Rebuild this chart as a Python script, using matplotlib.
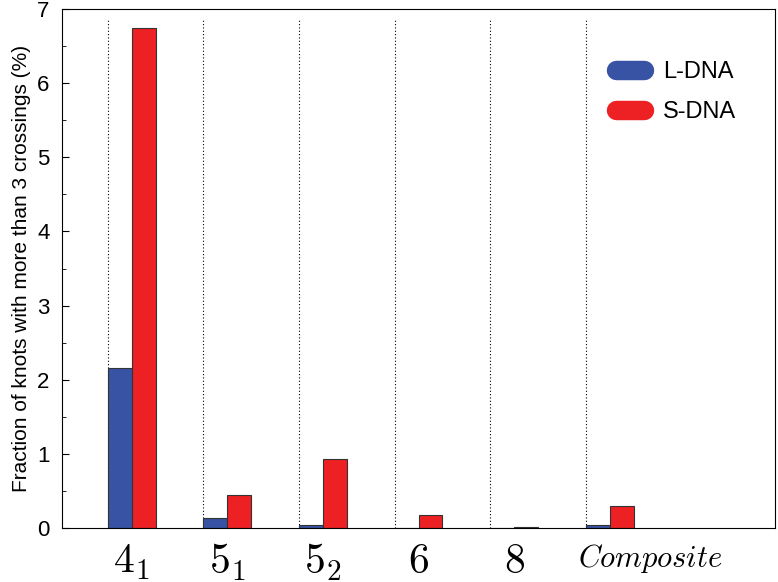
import numpy as np
import matplotlib
matplotlib.use("Agg")
import matplotlib.pyplot as plt
from matplotlib.lines import Line2D
from matplotlib.ticker import MultipleLocator

plt.rcParams['font.family'] = ['Liberation Sans', 'DejaVu Sans']
plt.rcParams['mathtext.fontset'] = 'cm'

# data
knots = ['$4_1$', '$5_1$', '$5_2$', '$6$', '$8$', '$Composite$']
l_dna = [2.16, 0.13, 0.04, 0.0, 0.0, 0.04]
s_dna = [6.75, 0.45, 0.93, 0.18, 0.02, 0.30]

blue = '#3953a4'
red = '#ed2024'
w = 0.25

fig = plt.figure(figsize=(7.78, 5.82), dpi=100)
ax = fig.add_axes([0.0797, 0.0928, 0.9165, 0.8917])

x = np.arange(len(knots))
ax.vlines(x, 0, 6.86, colors='black', linestyles=(0, (1, 2)), linewidth=0.8, zorder=1)
ax.bar(x, l_dna, width=w, align='edge', color=blue, edgecolor='#333333', linewidth=0.8, zorder=2)
ax.bar(x + w, s_dna, width=w, align='edge', color=red, edgecolor='#333333', linewidth=0.8, zorder=2)

ax.set_xlim(-0.48, 6.98)
ax.set_ylim(0, 7)
# label positions: pair centre, "Composite" sits further right
lab_pos = x + 0.25
lab_pos[-1] = x[-1] + 0.68
ax.set_xticks(lab_pos)
ax.set_xticklabels(knots)
for lab in ax.get_xticklabels():
    lab.set_fontsize(22 if lab.get_text() == '$Composite$' else 30)
ax.tick_params(axis='x', length=0, pad=10)

ax.yaxis.set_major_locator(MultipleLocator(1))
ax.yaxis.set_minor_locator(MultipleLocator(0.5))
ax.tick_params(axis='y', which='major', direction='in', length=5, labelsize=16, pad=9)
ax.tick_params(axis='y', which='minor', direction='in', length=3)
ax.set_ylabel('Fraction of knots with more than 3 crossings (%)', fontsize=15, labelpad=4)

handles = [Line2D([0], [0], color=blue, lw=14, solid_capstyle='round'),
           Line2D([0], [0], color=red, lw=14, solid_capstyle='round')]
ax.legend(handles, ['L-DNA', 'S-DNA'], loc='upper right', bbox_to_anchor=(0.975, 0.94),
          frameon=False, fontsize=17, handlelength=1.2, handletextpad=0.8, labelspacing=0.75)

fig.savefig('out.png', dpi=100)
